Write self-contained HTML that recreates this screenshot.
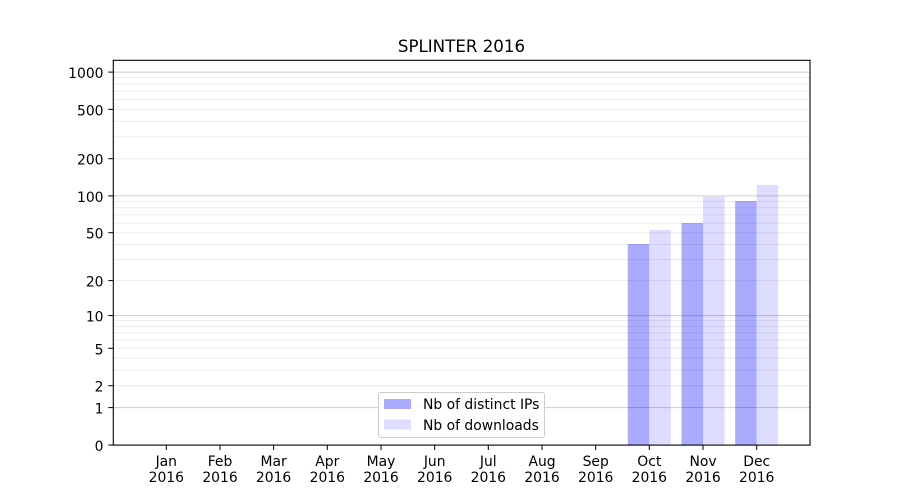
<!DOCTYPE html>
<html><head><meta charset="utf-8"><style>
html,body{margin:0;padding:0;background:#fff;}
svg{display:block;}
text{font-family:"DejaVu Sans","Liberation Sans",sans-serif;fill:#000;}
</style></head><body>
<svg width="900" height="500" viewBox="0 0 900 500" xmlns="http://www.w3.org/2000/svg">
<rect x="0" y="0" width="900" height="500" fill="#fff"/>
<!-- bars -->
<g>
<rect x="627.8" y="244" width="21.5" height="201" fill="#aaaaff"/>
<rect x="649.3" y="230" width="21.5" height="215" fill="#ddddff"/>
<rect x="681.5" y="223" width="21.5" height="222" fill="#aaaaff"/>
<rect x="703.0" y="196.7" width="21.5" height="248.3" fill="#ddddff"/>
<rect x="735.2" y="201" width="21.5" height="244" fill="#aaaaff"/>
<rect x="756.7" y="185" width="21.5" height="260" fill="#ddddff"/>
</g>
<!-- minor grid -->
<g stroke="#000" stroke-opacity="0.08" stroke-width="1">
<line x1="113" x2="810" y1="385.7" y2="385.7"/>
<line x1="113" x2="810" y1="370.2" y2="370.2"/>
<line x1="113" x2="810" y1="358.1" y2="358.1"/>
<line x1="113" x2="810" y1="348.3" y2="348.3"/>
<line x1="113" x2="810" y1="340.0" y2="340.0"/>
<line x1="113" x2="810" y1="332.7" y2="332.7"/>
<line x1="113" x2="810" y1="326.4" y2="326.4"/>
<line x1="113" x2="810" y1="320.7" y2="320.7"/>
<line x1="113" x2="810" y1="280.6" y2="280.6"/>
<line x1="113" x2="810" y1="259.6" y2="259.6"/>
<line x1="113" x2="810" y1="244.5" y2="244.5"/>
<line x1="113" x2="810" y1="232.7" y2="232.7"/>
<line x1="113" x2="810" y1="223.1" y2="223.1"/>
<line x1="113" x2="810" y1="214.9" y2="214.9"/>
<line x1="113" x2="810" y1="207.8" y2="207.8"/>
<line x1="113" x2="810" y1="201.5" y2="201.5"/>
<line x1="113" x2="810" y1="158.7" y2="158.7"/>
<line x1="113" x2="810" y1="136.9" y2="136.9"/>
<line x1="113" x2="810" y1="121.4" y2="121.4"/>
<line x1="113" x2="810" y1="109.4" y2="109.4"/>
<line x1="113" x2="810" y1="99.6" y2="99.6"/>
<line x1="113" x2="810" y1="91.3" y2="91.3"/>
<line x1="113" x2="810" y1="84.1" y2="84.1"/>
<line x1="113" x2="810" y1="77.7" y2="77.7"/>
</g>
<!-- major grid -->
<g stroke="#000" stroke-opacity="0.2" stroke-width="1">
<line x1="113" x2="810" y1="407.6" y2="407.6"/>
<line x1="113" x2="810" y1="315.6" y2="315.6"/>
<line x1="113" x2="810" y1="195.9" y2="195.9"/>
<line x1="113" x2="810" y1="72.1" y2="72.1"/>
</g>
<!-- axes frame -->
<rect x="113.3" y="60.3" width="696.7" height="384.8" fill="none" stroke="#000" stroke-width="1.1"/>
<!-- y ticks -->
<g stroke="#000" stroke-width="1">
<line x1="108.3" x2="113" y1="445" y2="445"/>
<line x1="108.3" x2="113" y1="407.6" y2="407.6"/>
<line x1="108.3" x2="113" y1="385.7" y2="385.7"/>
<line x1="108.3" x2="113" y1="348.3" y2="348.3"/>
<line x1="108.3" x2="113" y1="315.6" y2="315.6"/>
<line x1="108.3" x2="113" y1="280.6" y2="280.6"/>
<line x1="108.3" x2="113" y1="232.7" y2="232.7"/>
<line x1="108.3" x2="113" y1="195.9" y2="195.9"/>
<line x1="108.3" x2="113" y1="158.7" y2="158.7"/>
<line x1="108.3" x2="113" y1="109.4" y2="109.4"/>
<line x1="108.3" x2="113" y1="72.1" y2="72.1"/>
</g>
<g font-size="13.9" text-anchor="end">
<text x="103.5" y="451">0</text>
<text x="103.5" y="413.6">1</text>
<text x="103.5" y="391.7">2</text>
<text x="103.5" y="354.3">5</text>
<text x="103.5" y="321.6">10</text>
<text x="103.5" y="286.6">20</text>
<text x="103.5" y="238.7">50</text>
<text x="103.5" y="201.9">100</text>
<text x="103.5" y="164.7">200</text>
<text x="103.5" y="115.4">500</text>
<text x="103.5" y="78.1">1000</text>
</g>
<!-- x ticks -->
<g stroke="#000" stroke-width="1">
<line x1="166.3" x2="166.3" y1="445" y2="450"/>
<line x1="220.0" x2="220.0" y1="445" y2="450"/>
<line x1="273.6" x2="273.6" y1="445" y2="450"/>
<line x1="327.3" x2="327.3" y1="445" y2="450"/>
<line x1="381.0" x2="381.0" y1="445" y2="450"/>
<line x1="434.7" x2="434.7" y1="445" y2="450"/>
<line x1="488.3" x2="488.3" y1="445" y2="450"/>
<line x1="542.0" x2="542.0" y1="445" y2="450"/>
<line x1="595.7" x2="595.7" y1="445" y2="450"/>
<line x1="649.3" x2="649.3" y1="445" y2="450"/>
<line x1="703.0" x2="703.0" y1="445" y2="450"/>
<line x1="756.7" x2="756.7" y1="445" y2="450"/>
</g>
<g font-size="13.9" text-anchor="middle">
<text x="166.3" y="466">Jan</text><text x="166.3" y="482">2016</text>
<text x="220.0" y="466">Feb</text><text x="220.0" y="482">2016</text>
<text x="273.6" y="466">Mar</text><text x="273.6" y="482">2016</text>
<text x="327.3" y="466">Apr</text><text x="327.3" y="482">2016</text>
<text x="381.0" y="466">May</text><text x="381.0" y="482">2016</text>
<text x="434.7" y="466">Jun</text><text x="434.7" y="482">2016</text>
<text x="488.3" y="466">Jul</text><text x="488.3" y="482">2016</text>
<text x="542.0" y="466">Aug</text><text x="542.0" y="482">2016</text>
<text x="595.7" y="466">Sep</text><text x="595.7" y="482">2016</text>
<text x="649.3" y="466">Oct</text><text x="649.3" y="482">2016</text>
<text x="703.0" y="466">Nov</text><text x="703.0" y="482">2016</text>
<text x="756.7" y="466">Dec</text><text x="756.7" y="482">2016</text>
</g>
<!-- title -->
<text x="461.5" y="52" font-size="16.67" text-anchor="middle">SPLINTER 2016</text>
<!-- legend -->
<rect x="378.5" y="392.5" width="166" height="45" rx="2.5" fill="#fff" fill-opacity="0.85" stroke="#cccccc" stroke-width="1"/>
<rect x="384" y="399" width="27" height="10" fill="#aaaaff"/>
<rect x="384" y="419.5" width="27" height="10" fill="#ddddff"/>
<g font-size="13.9">
<text x="423" y="409">Nb of distinct IPs</text>
<text x="423" y="430">Nb of downloads</text>
</g>
</svg>
</body></html>
